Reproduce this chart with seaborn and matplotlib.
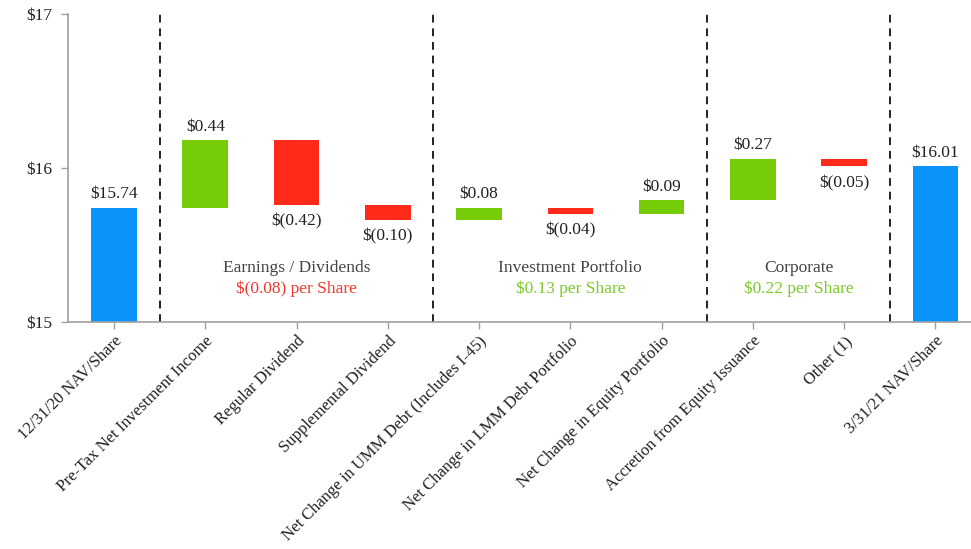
import matplotlib
matplotlib.use("Agg")
import matplotlib.pyplot as plt
import seaborn as sns
import pandas as pd
import numpy as np

# NAV per share bridge, Q1 2021
categories = [
    "12/31/20 NAV/Share",
    "Pre-Tax Net Investment Income",
    "Regular Dividend",
    "Supplemental Dividend",
    "Net Change in UMM Debt (Includes I-45)",
    "Net Change in LMM Debt Portfolio",
    "Net Change in Equity Portfolio",
    "Accretion from Equity Issuance",
    "Other (1)",
    "3/31/21 NAV/Share",
]
start_nav = 15.74
changes = [0.44, -0.42, -0.10, 0.08, -0.04, 0.09, 0.27, -0.05]
end_nav = 16.01
value_labels = ["$15.74", "$0.44", "$(0.42)", "$(0.10)", "$0.08", "$(0.04)",
                "$0.09", "$0.27", "$(0.05)", "$16.01"]

group_titles = ["Earnings / Dividends", "Investment Portfolio", "Corporate"]
group_totals = ["$(0.08) per Share", "$0.13 per Share", "$0.22 per Share"]
group_centers = [2, 5, 7.5]
group_total_colors = ["#EE3B2E", "#7DCB2A", "#7DCB2A"]
dividers = [0.5, 3.5, 6.5, 8.5]

BLUE = "#0A93FA"
GREEN = "#77CC0A"
RED = "#FF2A1A"

# floating bar bottoms and heights
bottoms, heights, colors = [], [], []
level = start_nav
bottoms.append(15.0); heights.append(start_nav - 15.0); colors.append(BLUE)
for c in changes:
    new = level + c
    bottoms.append(min(level, new))
    heights.append(abs(c))
    colors.append(GREEN if c > 0 else RED)
    level = new
bottoms.append(15.0); heights.append(end_nav - 15.0); colors.append(BLUE)

df = pd.DataFrame({"item": categories, "height": heights})

sns.set_theme(style="white")
plt.rcParams["font.family"] = ["Liberation Serif", "DejaVu Serif"]

fig = plt.figure(figsize=(9.71, 5.49), dpi=100)
ax = fig.add_axes([68 / 971, 1 - 322 / 549, (971 - 68) / 971, (322 - 14) / 549])

sns.barplot(data=df, x="item", y="height", color=BLUE, width=0.5, ax=ax,
            saturation=1, errorbar=None)

for patch, b, h, col in zip(ax.patches, bottoms, heights, colors):
    patch.set_y(b)
    patch.set_height(h)
    patch.set_facecolor(col)
    patch.set_edgecolor("none")

ax.set_xlim(-0.504, 9.39)
ax.set_ylim(15, 17)
ax.set_yticks([15, 16, 17])
ax.set_yticklabels(["$15", "$16", "$17"])
ax.set_xlabel("")
ax.set_ylabel("")

# value labels
for i, (b, h, lab) in enumerate(zip(bottoms, heights, value_labels)):
    neg = lab.startswith("$(")
    if neg:
        ax.annotate(lab, (i, b), xytext=(0, -6), textcoords="offset points",
                    ha="center", va="top", fontsize=12.5, color="#222222")
    else:
        ax.annotate(lab, (i, b + h), xytext=(0, 4), textcoords="offset points",
                    ha="center", va="bottom", fontsize=12.5, color="#222222")

# section dividers
for xv in dividers:
    ax.axvline(xv, ymin=0, ymax=1, color="#222222", linestyle=(0, (4, 3)), linewidth=1.4)

# section captions
for xc, t, tot, tc in zip(group_centers, group_titles, group_totals, group_total_colors):
    ax.text(xc, 15.35, t, ha="center", va="center", fontsize=12.5, color="#444444")
    ax.text(xc, 15.215, tot, ha="center", va="center", fontsize=12.5, color=tc)

for s in ["top", "right"]:
    ax.spines[s].set_visible(False)
for s in ["left", "bottom"]:
    ax.spines[s].set_color("#A0A0A0")
    ax.spines[s].set_linewidth(1.2)

ax.tick_params(axis="both", which="both", direction="out", length=5, width=1,
               color="#A0A0A0", labelsize=12, labelcolor="#222222",
               bottom=True, left=True)
ax.tick_params(axis="y", pad=6, labelsize=12.5)
ax.tick_params(axis="x", pad=3)
ax.set_xticks(range(len(categories)))
ax.set_xticklabels(categories, rotation=45, ha="right", rotation_mode="anchor")

fig.savefig("out.png", dpi=100)
